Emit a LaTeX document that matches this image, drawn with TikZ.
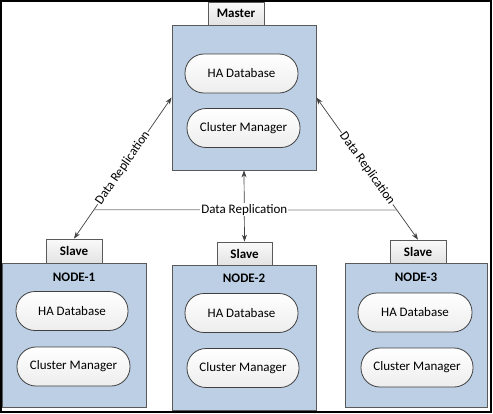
\documentclass[tikz,border=0pt]{standalone}
\usepackage{fontspec}
\setmainfont{Carlito}
\usetikzlibrary{arrows.meta}

\definecolor{boxblue}{RGB}{188,207,229}
\definecolor{edgegray}{RGB}{90,90,90}
\definecolor{linegray}{RGB}{64,64,64}

\begin{document}
\begin{tikzpicture}
        [x=1pt,y=-1pt,thick,
         font=\fontsize{13}{15}\selectfont,
         hostbox/.style={rectangle,draw=edgegray,line width=0.8pt,fill=boxblue,minimum width=144pt,minimum height=145pt,inner sep=0pt},
         rolebox/.style={rectangle,draw=edgegray,line width=0.8pt,top color=gray!4,bottom color=gray!22,minimum width=56pt,minimum height=23pt,inner sep=0pt,font=\fontsize{13}{15}\selectfont\bfseries},
         pill/.style={rectangle,rounded corners=19pt,draw=linegray,line width=0.8pt,top color=white,bottom color=gray!14,minimum width=113pt,minimum height=39pt,inner sep=0pt},
         repl/.style={linegray,line width=0.7pt,{Stealth[length=7pt,width=5pt]}-{Stealth[length=7pt,width=5pt]}},
         repllabel/.style={fill=white,inner sep=1pt,text=black}]
        \useasboundingbox (0,0) rectangle (493,413);
        \draw[black,line width=2pt] (1,1) rectangle (491,412);

        % master
        \node[hostbox] (master) at (244,97.5) {};
        \node[rolebox] (mrole) at (236,13.5) {Master};
        \node[pill] (mdb) at (241.5,73.5) {HA Database};
        \node[pill] (mcm) at (243.5,128) {Cluster Manager};

        % slaves
        \node[hostbox,minimum height=144pt] (n1) at (74,335) {};
        \node[rolebox,minimum height=24pt] (s1) at (74,251) {Slave};
        \node[font=\fontsize{13}{15}\selectfont\bfseries] (n1name) at (74,277) {NODE-1};
        \node[pill,minimum width=112pt] (n1db) at (72,311) {HA Database};
        \node[pill] (n1cm) at (73.5,366.5) {Cluster Manager};

        \node[hostbox] (n2) at (244,337.5) {};
        \node[rolebox,minimum width=55pt] (s2) at (244.5,253.5) {Slave};
        \node[font=\fontsize{13}{15}\selectfont\bfseries] (n2name) at (244,278) {NODE-2};
        \node[pill] (n2db) at (241.5,313) {HA Database};
        \node[pill,minimum width=112pt] (n2cm) at (243,368) {Cluster Manager};

        \node[hostbox,minimum width=142pt,minimum height=144pt] (n3) at (416,335) {};
        \node[rolebox] (s3) at (418,251.5) {Slave};
        \node[font=\fontsize{13}{15}\selectfont\bfseries] (n3name) at (416,277) {NODE-3};
        \node[pill,minimum width=114pt] (n3db) at (415,312.5) {HA Database};
        \node[pill,minimum width=112pt] (n3cm) at (417,367.5) {Cluster Manager};

        % replication links
        \draw[repl] (master.west) -- coordinate[pos=0.795] (h1) node[midway,sloped,repllabel] {Data Replication} (s1.north);
        \draw[repl] (master.east) -- coordinate[pos=0.792] (h3) node[midway,sloped,repllabel] {Data Replication} (s3.north);
        \draw[gray,line width=0.7pt] (h1) -- (h3);
        \draw[repl] (master.south) -- node[pos=0.55,repllabel] {Data Replication} (s2.north);
    \end{tikzpicture}
\end{document}
